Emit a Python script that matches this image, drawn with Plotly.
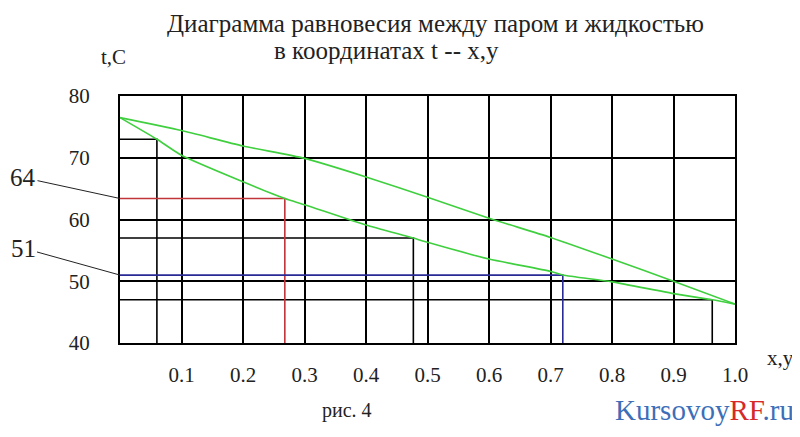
import plotly.graph_objects as go

# Liquid (boiling) line: t vs x
x_liq = [0.0, 0.06, 0.1, 0.2, 0.268, 0.3, 0.4, 0.477, 0.5, 0.6, 0.7, 0.72, 0.8, 0.9, 0.963, 1.0]
t_liq = [76.5, 73.0, 70.4, 66.1, 63.4, 62.4, 59.1, 57.0, 56.3, 53.6, 51.6, 51.0, 49.9, 48.0, 47.0, 46.3]
# Vapour (dew) line: t vs y
y_vap = [0.0, 0.1, 0.2, 0.3, 0.4, 0.5, 0.6, 0.7, 0.8, 0.9, 1.0]
t_vap = [76.5, 74.4, 71.9, 69.9, 66.9, 63.6, 60.2, 57.1, 53.6, 50.0, 46.3]

# Black construction steps (composition, temperature)
step_x = [0.06, 0.477, 0.963]
step_t = [73.0, 57.0, 47.0]
# Highlighted readings
red_x, red_t, red_label = 0.268, 63.4, "64"
blue_x, blue_t, blue_label = 0.72, 51.0, "51"

x_ticks = [0.1, 0.2, 0.3, 0.4, 0.5, 0.6, 0.7, 0.8, 0.9, 1.0]
x_ticklabels = ["0.1", "0.2", "0.3", "0.4", "0.5", "0.6", "0.7", "0.8", "0.9", "1.0"]
y_ticks = [40, 50, 60, 70, 80]
y_ticklabels = ["40", "50", "60", "70", "80"]
T_MIN, T_MAX = 40, 80

SERIF = "Liberation Serif"
# plot area in page pixels (page has an 8px body margin)
L, T, W, H = 120, 96, 615, 247
OFF = 8

fig = go.Figure()

def corner(xv, tv):
    return [0, xv, xv], [tv, tv, T_MIN]

for xs, ts in zip(step_x, step_t):
    cx, cy = corner(xs, ts)
    fig.add_trace(go.Scatter(x=cx, y=cy, mode="lines",
                             line=dict(color="black", width=1.6), hoverinfo="skip"))

cx, cy = corner(red_x, red_t)
fig.add_trace(go.Scatter(x=cx, y=cy, mode="lines",
                         line=dict(color="#c0343a", width=1.6), hoverinfo="skip"))
cx, cy = corner(blue_x, blue_t)
fig.add_trace(go.Scatter(x=cx, y=cy, mode="lines",
                         line=dict(color="#2a2a96", width=1.6), hoverinfo="skip"))

fig.add_trace(go.Scatter(x=x_liq, y=t_liq, mode="lines", line_shape="spline",
                         line=dict(color="#3fcf3f", width=1.6, smoothing=0.6), hoverinfo="skip"))
fig.add_trace(go.Scatter(x=y_vap, y=t_vap, mode="lines", line_shape="spline",
                         line=dict(color="#3fcf3f", width=1.6, smoothing=0.6), hoverinfo="skip"))

axis_common = dict(showgrid=True, gridcolor="black", gridwidth=1.6,
                   showline=True, linecolor="black", linewidth=2, mirror=True,
                   zeroline=False, ticks="", tickfont=dict(family=SERIF, size=21, color="#222"))

fig.update_xaxes(range=[0, 1], tickvals=x_ticks, ticktext=x_ticklabels,
                 ticklabelstandoff=12, **axis_common)
fig.update_yaxes(range=[T_MIN, T_MAX], tickvals=y_ticks, ticktext=y_ticklabels,
                 ticklabelstandoff=24, **axis_common)

ann = []
ann.append(dict(x=0, y=red_t, xref="x", yref="y", text=red_label, showarrow=True,
                ax=-97, ay=-21, arrowhead=0, arrowwidth=1, arrowcolor="#222",
                font=dict(family=SERIF, size=25, color="#222")))
ann.append(dict(x=0, y=blue_t, xref="x", yref="y", text=blue_label, showarrow=True,
                ax=-97, ay=-27, arrowhead=0, arrowwidth=1, arrowcolor="#222",
                font=dict(family=SERIF, size=25, color="#222")))

def paper_text(text, px, py, size, color="#222", family=SERIF):
    return dict(text=text, xref="paper", yref="paper", showarrow=False,
                x=(px - L) / W, y=1 - (py - T) / H,
                xanchor="center", yanchor="middle",
                font=dict(family=family, size=size, color=color))

ann.append(paper_text("Диаграмма равновесия между паром и жидкостью", 435, 24, 25))
ann.append(paper_text("в координатах t -- x,y", 386, 51, 25))
ann.append(paper_text("t,C", 113, 57, 21))
ann.append(paper_text("x,y", 780, 358, 21))
ann.append(paper_text("рис. 4", 347, 410, 20))
ann.append(paper_text("<span style='color:#3d6fb8'>Kursovoy</span>"
                      "<span style='color:#d62a2a'>RF</span>"
                      "<span style='color:#3d6fb8'>.ru</span>", 704, 410, 29))

fig.update_layout(width=800, height=437, showlegend=False,
                  margin=dict(l=L - OFF, r=800 - (L - OFF + W), t=T - OFF,
                              b=437 - (T - OFF + H)),
                  paper_bgcolor="white", plot_bgcolor="white",
                  annotations=ann)

fig.write_html("out.html")
